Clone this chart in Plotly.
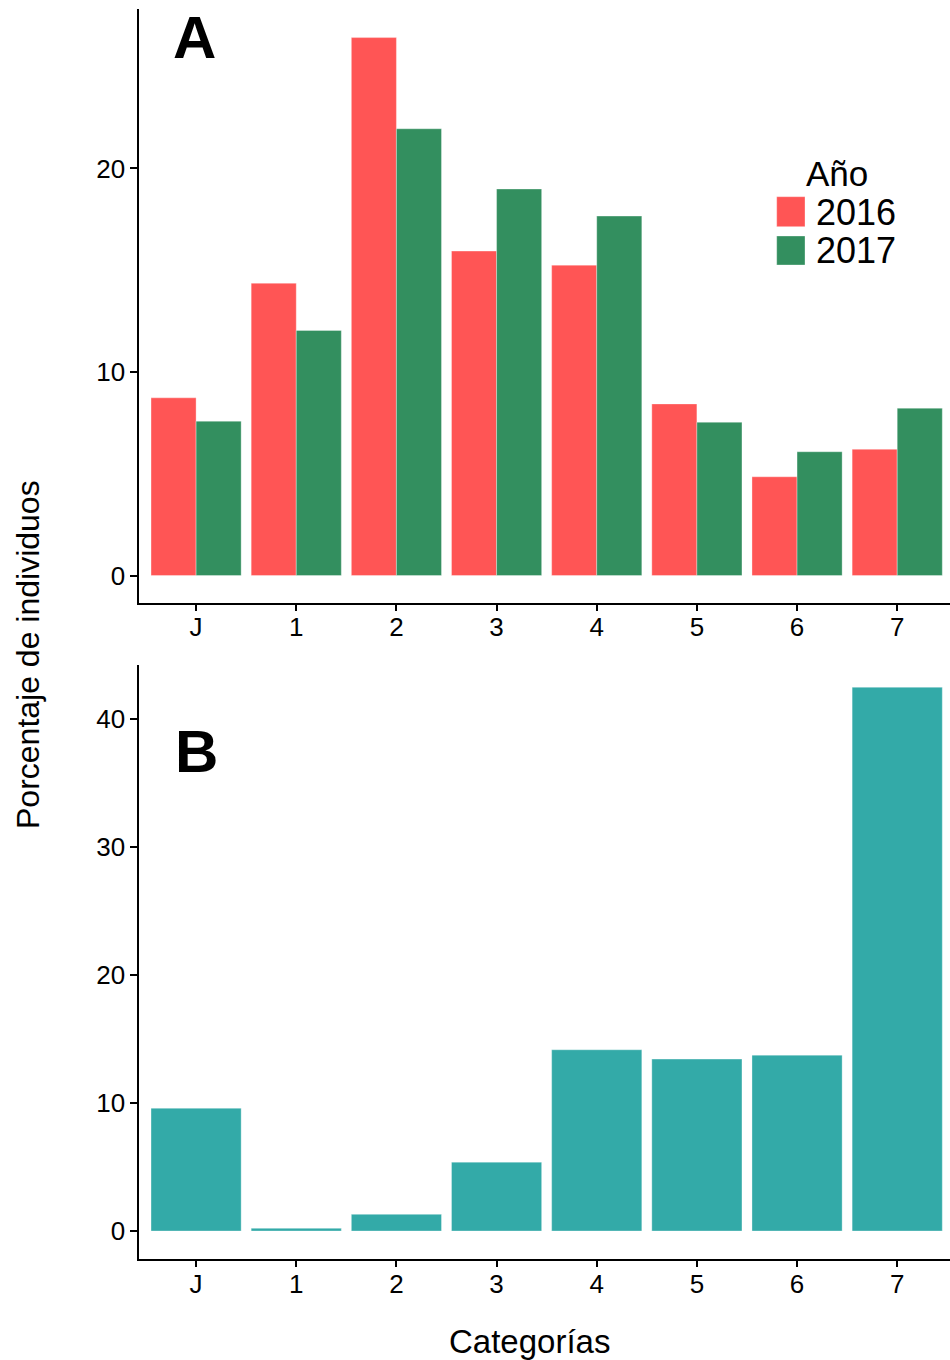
import plotly.graph_objects as go

categories = ["J", "1", "2", "3", "4", "5", "6", "7"]
a_2016 = [8.73, 14.36, 26.43, 15.94, 15.25, 8.43, 4.85, 6.20]
a_2017 = [7.58, 12.04, 21.95, 18.99, 17.66, 7.53, 6.08, 8.22]
b_vals = [9.59, 0.21, 1.30, 5.38, 14.16, 13.43, 13.74, 42.48]
years = ["2016", "2017"]
a_ticks = [0, 10, 20]
b_ticks = [0, 10, 20, 30, 40]

RED = "#FF5555"
GREEN = "#338F5F"
TEAL = "#33AAA8"

W, H = 950, 1360
tick_font = dict(family="Liberation Sans, Arial, sans-serif", size=26, color="black")
txt_font = "Liberation Sans, Arial, sans-serif"

fig = go.Figure()
edge = dict(color="rgba(255,255,255,0.55)", width=0.6)
fig.add_trace(go.Bar(x=categories, y=a_2016, name=years[0], marker=dict(color=RED, line=edge),
                     xaxis="x", yaxis="y", showlegend=False))
fig.add_trace(go.Bar(x=categories, y=a_2017, name=years[1], marker=dict(color=GREEN, line=edge),
                     xaxis="x", yaxis="y", showlegend=False))
fig.add_trace(go.Bar(x=categories, y=b_vals, name="B", marker=dict(color=TEAL, line=edge),
                     xaxis="x2", yaxis="y2", showlegend=False, width=0.9))

def px_x(p):
    return p / W

def px_y(p):
    return 1 - p / H

xdom = [px_x(139.3), 1.0]
common_x = dict(type="category", range=[-0.567, 7.527], showline=True, linecolor="black", linewidth=2,
                ticks="outside", ticklen=6, tickwidth=1.5, tickcolor="black", tickfont=tick_font,
                ticklabelstandoff=-6,
                showgrid=False, zeroline=False, domain=xdom, fixedrange=True)
common_y = dict(showline=True, linecolor="black", linewidth=2, ticks="outside", ticklen=7, tickwidth=1.5,
                tickcolor="black", tickfont=tick_font, showgrid=False, zeroline=False, fixedrange=True)

fig.update_layout(
    width=W, height=H, margin=dict(l=0, r=0, t=0, b=0),
    paper_bgcolor="white", plot_bgcolor="white",
    barmode="group", bargap=0.1, bargroupgap=0,
    xaxis=dict(**common_x, anchor="y"),
    yaxis=dict(**common_y, anchor="x", domain=[px_y(603), px_y(9.3)], range=[-1.351, 27.82],
               tickvals=a_ticks),
    xaxis2=dict(**common_x, anchor="y2"),
    yaxis2=dict(**common_y, anchor="x2", domain=[px_y(1259.3), px_y(665)], range=[-2.21, 44.22],
                tickvals=b_ticks),
    showlegend=False,
)

annotations = [
    dict(text="<b>A</b>", x=px_x(194), y=px_y(37), xref="paper", yref="paper", showarrow=False,
         font=dict(family=txt_font, size=60, color="black"), xanchor="center", yanchor="middle"),
    dict(text="<b>B</b>", x=px_x(196), y=px_y(751), xref="paper", yref="paper", showarrow=False,
         font=dict(family=txt_font, size=60, color="black"), xanchor="center", yanchor="middle"),
    dict(text="Porcentaje de individuos", x=px_x(28), y=px_y(655), xref="paper", yref="paper",
         showarrow=False, textangle=-90, font=dict(family=txt_font, size=32, color="black"),
         xanchor="center", yanchor="middle"),
    dict(text="Categorías", x=px_x(529), y=px_y(1341), xref="paper", yref="paper", showarrow=False,
         font=dict(family=txt_font, size=33, color="black"), xanchor="center", yanchor="middle"),
    dict(text="Año", x=px_x(804), y=px_y(173), xref="paper", yref="paper", showarrow=False,
         font=dict(family=txt_font, size=35, color="black"), xanchor="left", yanchor="middle"),
    dict(text=years[0], x=px_x(814), y=px_y(212), xref="paper", yref="paper", showarrow=False,
         font=dict(family=txt_font, size=36, color="black"), xanchor="left", yanchor="middle"),
    dict(text=years[1], x=px_x(814), y=px_y(250.5), xref="paper", yref="paper", showarrow=False,
         font=dict(family=txt_font, size=36, color="black"), xanchor="left", yanchor="middle"),
]
shapes = [
    dict(type="rect", xref="paper", yref="paper", x0=px_x(776.7), x1=px_x(805), y0=px_y(226.7), y1=px_y(196.7),
         fillcolor=RED, line=dict(color="rgba(255,255,255,0.55)", width=0.6)),
    dict(type="rect", xref="paper", yref="paper", x0=px_x(776.7), x1=px_x(805), y0=px_y(265), y1=px_y(236),
         fillcolor=GREEN, line=dict(color="rgba(255,255,255,0.55)", width=0.6)),
]
fig.update_layout(annotations=annotations, shapes=shapes)

fig.write_html("out.html", config={"displayModeBar": False},
               post_script="document.body.style.margin='0';document.body.style.overflow='hidden';")
